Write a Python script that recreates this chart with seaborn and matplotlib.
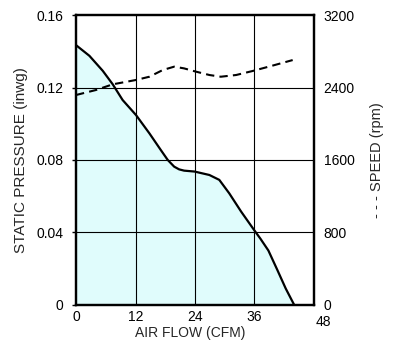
import matplotlib
matplotlib.use("Agg")
import matplotlib.pyplot as plt
import matplotlib.transforms as mtransforms
import seaborn as sns
import pandas as pd

# Data
flow_p = [0, 2.7, 5.4, 7.4, 9.4, 12.1, 14.8, 17.1, 18.5, 19.8, 20.8, 21.8, 23.9, 26.9, 28.9,
          30.9, 33.3, 35.9, 37.2, 38.8, 40.6, 42.3, 44.0]
pressure = [0.1434, 0.1375, 0.1292, 0.1218, 0.1131, 0.1048, 0.0947, 0.0855, 0.080, 0.0763, 0.0748,
            0.0741, 0.0736, 0.0717, 0.069, 0.0616, 0.0515, 0.0414, 0.0365, 0.0300, 0.0193, 0.0090, 0.0]

flow_s = [0, 4.0, 7.4, 12.1, 14.8, 17.5, 19.8, 21.8, 24.2, 26.9, 29.2, 32.3, 35.6, 39.6, 43.7]
speed = [2317, 2372, 2435, 2483, 2519, 2593, 2630, 2611, 2575, 2538, 2519, 2538, 2582, 2641, 2703]

x_ticks = [0, 12, 24, 36, 48]
p_ticks = [0, 0.04, 0.08, 0.12, 0.16]
p_tick_labels = ["0", "0.04", "0.08", "0.12", "0.16"]
s_ticks = [0, 800, 1600, 2400, 3200]

sns.set_style("white")
plt.rcParams['font.family'] = ['Liberation Sans', 'DejaVu Sans']
plt.rcParams['font.size'] = 10

fig = plt.figure(figsize=(4, 3.5), dpi=100)
ax = fig.add_axes([0.19, 0.129, 0.595, 0.828])

dfp = pd.DataFrame({"flow": flow_p, "pressure": pressure})
dfs = pd.DataFrame({"flow": flow_s, "speed": speed})

ax.fill_between(dfp["flow"], dfp["pressure"], 0, color="#e0fcfc", zorder=1, linewidth=0)
for v in x_ticks[1:-1]:
    ax.axvline(v, color="black", lw=0.8, zorder=2)
for v in p_ticks[1:-1]:
    ax.axhline(v, color="black", lw=0.8, zorder=2)
sns.lineplot(data=dfp, x="flow", y="pressure", ax=ax, color="black", lw=1.6, zorder=4)

ax.set_xlim(0, 48)
ax.set_ylim(0, 0.16)
ax.set_xticks(x_ticks)
ax.set_yticks(p_ticks)
ax.set_yticklabels(p_tick_labels)
ax.set_xlabel("AIR FLOW (CFM)", fontsize=10)
ax.xaxis.set_label_coords(0.48, -0.074)
ax.xaxis.label.set_verticalalignment("top")
ax.set_ylabel("STATIC PRESSURE (inwg)", labelpad=6, fontsize=11)
ax.tick_params(axis="both", direction="out", length=3, width=1, colors="black", labelsize=10)
ax.tick_params(axis="y", pad=6)
ax.tick_params(axis="x", pad=1)
for s in ax.spines.values():
    s.set_color("black")
    s.set_linewidth(1.6)

# last x tick label sits slightly right of and below the axis end in the reference
lbl = ax.get_xticklabels()[-1]
lbl.set_transform(lbl.get_transform() + mtransforms.ScaledTranslation(7 / 72, -3 / 72, fig.dpi_scale_trans))

ax2 = ax.twinx()
sns.lineplot(data=dfs, x="flow", y="speed", ax=ax2, color="black", lw=1.5, linestyle=(0, (4, 2.5)), zorder=4)
ax2.set_ylim(0, 3200)
ax2.set_yticks(s_ticks)
ax2.set_ylabel("- - - SPEED (rpm)", labelpad=11, fontsize=10.5)
ax2.tick_params(axis="y", direction="out", length=0, width=1, pad=7, colors="black", labelsize=10)
for s in ax2.spines.values():
    s.set_color("black")
    s.set_linewidth(1.6)

fig.savefig("out.png", dpi=100)
